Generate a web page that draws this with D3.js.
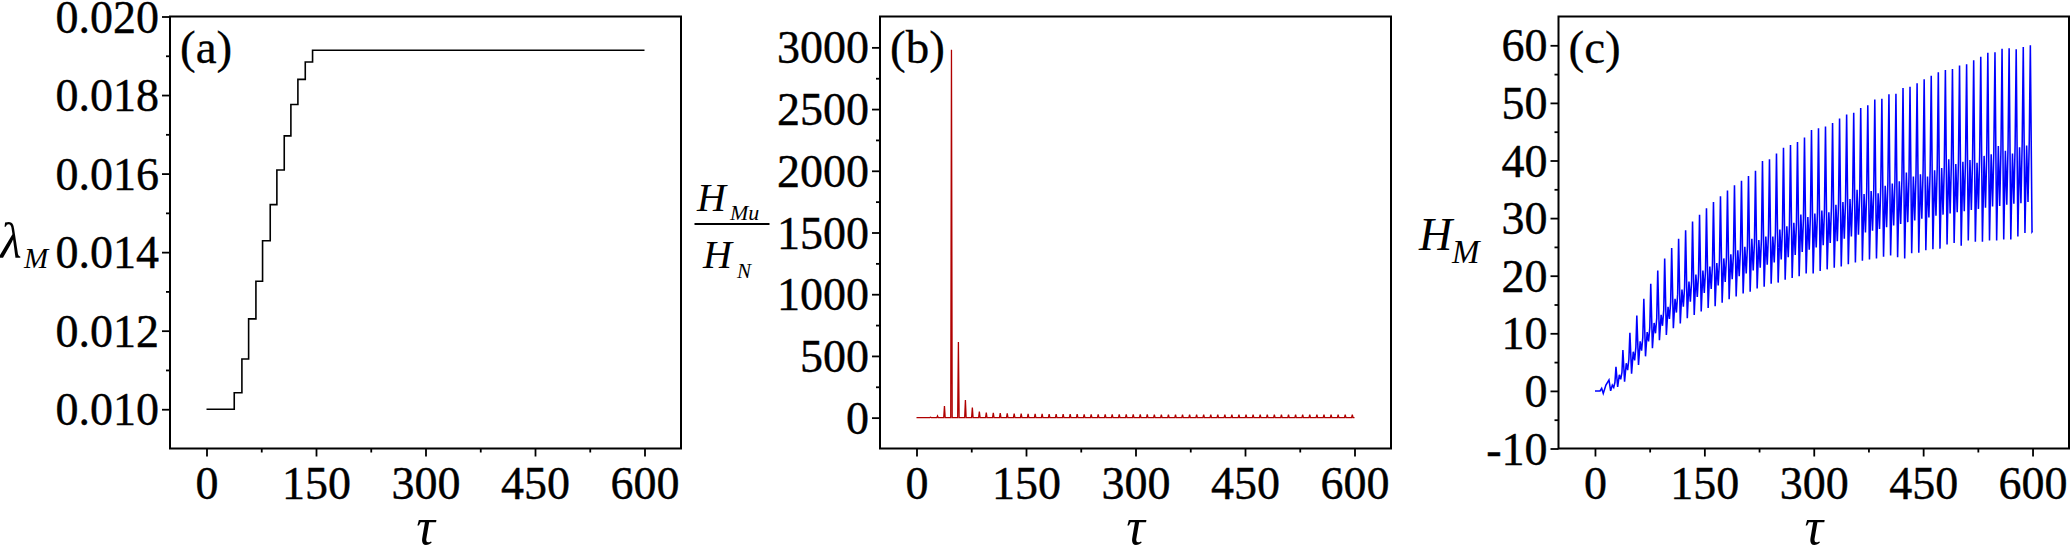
<!DOCTYPE html>
<html><head><meta charset="utf-8">
<script src="https://cdn.jsdelivr.net/npm/d3@7"></script>
<style>html,body{margin:0;padding:0;background:#fff;overflow:hidden}</style>
</head><body>
<svg id="chart" width="2070" height="549" xmlns="http://www.w3.org/2000/svg"></svg>
<script>
// ---------------- DATA ----------------
const xTickValues = [0, 150, 300, 450, 600];
const xMinorValues = [75, 225, 375, 525];

// (a) lambda_M step function
const aYTicks = [0.010, 0.012, 0.014, 0.016, 0.018, 0.020];
const aYMinor = [0.011, 0.013, 0.015, 0.017, 0.019];
const aT = [0, 38, 48.5, 57.7, 67.7, 76.8, 87.3, 96.4, 106.5, 115.6, 125.2, 135.3, 145.3, 600];
const aV = [0.0100, 0.01042, 0.01128, 0.0123, 0.01326, 0.01429, 0.01521, 0.01609, 0.01696, 0.01776, 0.0184, 0.01884, 0.01914, 0.01914];

// cycle times (shared by b and c)
const cycleT = [19.2, 28.8, 38.3, 47.9, 57.4, 67.0, 76.5, 86.1, 95.6, 105.2, 114.7, 124.3, 133.8, 143.4, 152.9, 162.5, 172.1, 181.7, 191.3, 200.9, 210.5, 220.1, 229.7, 239.3, 248.9, 258.5, 268.1, 277.7, 287.3, 296.9, 306.5, 316.1, 325.8, 335.4, 345.1, 354.8, 364.4, 374.1, 383.7, 393.4, 403.1, 412.7, 422.4, 432.0, 441.7, 451.4, 461.1, 470.8, 480.5, 490.2, 499.9, 509.6, 519.3, 529.0, 538.7, 548.5, 558.2, 567.9, 577.6, 587.3, 597.0];

// (b) H_Mu / H_N spikes
const bYTicks = [0, 500, 1000, 1500, 2000, 2500, 3000];
const bYMinor = [250, 750, 1250, 1750, 2250, 2750];
const bPeak = [3, 14, 95, 2980, 613, 143, 81, 49, 41, 38, 36, 34, 33, 32, 31, 30, 30, 29, 29, 28, 28, 28, 27, 27, 27, 27, 26, 26, 26, 26, 26, 26, 25, 25, 25, 25, 25, 25, 25, 25, 25, 25, 25, 25, 25, 25, 25, 25, 25, 25, 25, 25, 25, 25, 25, 25, 25, 25, 25, 25, 25];
const bSpikeHalfWidth = [1.0];

// (c) H_M oscillation
const cYTicks = [-10, 0, 10, 20, 30, 40, 50, 60];
const cYMinor = [-5, 5, 15, 25, 35, 45, 55];
const cPreT = [0, 7, 9.2, 11.4, 15];
const cPreV = [0, 0, 0.45, -0.45, 1.0];
const cPeak = [1.9, 4.2, 7.1, 10.1, 13.1, 16.0, 18.6, 20.9, 23.0, 24.8, 26.4, 27.9, 29.4, 30.6, 31.7, 32.8, 33.8, 34.8, 35.7, 36.5, 37.3, 38.2, 39.9, 40.2, 41.2, 42.2, 42.7, 43.2, 44.0, 45.3, 45.6, 45.9, 46.5, 47.3, 48.0, 48.3, 49.1, 49.6, 50.6, 50.7, 51.5, 51.6, 52.6, 52.8, 53.4, 54.1, 54.7, 55.3, 55.7, 55.9, 56.5, 56.7, 57.4, 58.0, 58.7, 58.8, 59.4, 59.5, 59.3, 59.7, 60.0];
const cTrough = [0.0, 0.7, 1.6, 3.0, 4.5, 6.0, 7.4, 8.8, 9.7, 10.9, 11.7, 12.6, 13.2, 13.8, 14.4, 14.7, 15.3, 15.9, 16.4, 16.9, 17.2, 17.8, 18.1, 18.6, 18.8, 19.3, 19.6, 19.9, 20.4, 20.4, 20.8, 21.1, 21.4, 21.6, 22.0, 22.3, 22.6, 22.8, 23.0, 23.3, 23.5, 23.2, 23.0, 23.9, 24.0, 24.4, 24.6, 24.7, 25.4, 25.7, 25.2, 26.1, 25.9, 25.9, 26.1, 26.1, 26.3, 26.3, 26.8, 27.4, 27.6];
const cMidHi = [1.0, 2.8, 4.8, 6.8, 8.6, 10.2, 11.8, 13.2, 14.6, 16.0, 17.6, 19.0, 20.2, 20.9, 21.6, 22.2, 23.0, 23.7, 24.4, 25.0, 26.4, 26.2, 26.8, 26.8, 28.0, 28.6, 29.2, 30.6, 30.2, 30.8, 31.3, 31.0, 32.3, 32.8, 33.3, 34.9, 34.2, 34.7, 34.3, 35.6, 36.0, 36.4, 37.9, 37.2, 37.6, 37.2, 38.3, 38.7, 40.2, 39.4, 39.8, 40.1, 39.6, 40.8, 41.1, 42.5, 41.7, 41.2, 42.3, 42.6, 42.8];
const cMidLo = [0.6, 2.0, 3.6, 5.3, 7.0, 8.6, 10.0, 11.3, 12.5, 13.6, 14.6, 15.5, 16.3, 17.0, 17.7, 18.3, 18.9, 19.4, 19.9, 20.4, 20.9, 21.4, 21.9, 22.3, 22.8, 23.2, 23.6, 24.1, 24.5, 24.9, 25.3, 25.7, 26.0, 26.4, 26.8, 27.1, 27.5, 27.8, 28.1, 28.4, 28.7, 29.0, 29.3, 29.6, 29.9, 30.1, 30.4, 30.6, 30.8, 31.0, 31.2, 31.4, 31.6, 31.8, 32.0, 32.1, 32.3, 32.5, 32.6, 32.8, 33.0];
const cMidHi2 = [1.5, 3.2, 5.5, 7.6, 9.3, 11.0, 12.6, 14.0, 15.4, 16.8, 18.0, 19.0, 20.2, 21.0, 21.8, 22.6, 23.2, 23.9, 24.6, 25.2, 25.9, 26.4, 27.3, 27.6, 28.3, 28.9, 29.3, 30.0, 30.6, 31.0, 31.5, 32.0, 32.6, 33.1, 33.6, 34.0, 34.6, 35.0, 35.5, 36.0, 36.3, 36.8, 37.2, 37.6, 38.0, 38.3, 38.8, 39.1, 39.5, 39.8, 40.2, 40.5, 40.9, 41.2, 41.6, 41.9, 42.3, 42.6, 43.0, 43.3, 43.5];
const cCycleOffsets = [0, 2.3, 4.6, 6.5, 8.2];
const cEnd = [600, 27.7];

// ---------------- BUILD SERIES ----------------
const aPts = aT.map((t, i) => [t, aV[i]]);

const bPts = [[0, 0]];
cycleT.forEach((t, k) => {
  bPts.push([t - bSpikeHalfWidth[0], 0], [t, bPeak[k]], [t + bSpikeHalfWidth[0], 0]);
});
bPts.push([600, 0]);

const cPts = cPreT.map((t, i) => [t, cPreV[i]]);
cycleT.forEach((t, k) => {
  const vals = [cPeak[k], cTrough[k], cMidHi[k], cMidLo[k], cMidHi2[k]];
  cCycleOffsets.forEach((off, j) => {
    const tt = t + off;
    if (tt < 600) cPts.push([tt, vals[j]]);
  });
});
cPts.push(cEnd);

// ---------------- DRAW ----------------
const svg = d3.select('#chart');
const FONT = '"Liberation Serif", serif';
const TOP = 16.5, BOTTOM = 448.5;

const panels = [
  {left: 170, right: 681, yDomain: [0.009, 0.020], yTicks: aYTicks, yMinor: aYMinor,
   fmt: d3.format('.3f'), pts: aPts, color: '#000', curve: d3.curveStepAfter, width: 1.6, tag: '(a)'},
  {left: 880, right: 1391, yDomain: [-250, 3250], yTicks: bYTicks, yMinor: bYMinor,
   fmt: d => String(d), pts: bPts, color: '#b00000', curve: d3.curveLinear, width: 1.3, tag: '(b)'},
  {left: 1558.5, right: 2069, yDomain: [-10, 65], yTicks: cYTicks, yMinor: cYMinor,
   fmt: d => String(d), pts: cPts, color: '#0000ff', curve: d3.curveLinear, width: 1.55, tag: '(c)'}
];

panels.forEach(p => {
  const x = d3.scaleLinear().domain([-50, 650]).range([p.left, p.right]);
  const y = d3.scaleLinear().domain(p.yDomain).range([BOTTOM, TOP]);
  const g = svg.append('g');

  g.append('path').datum(p.pts)
    .attr('d', d3.line().x(d => x(d[0])).y(d => y(d[1])).curve(p.curve))
    .attr('fill', 'none').attr('stroke', p.color).attr('stroke-width', p.width)
    .attr('stroke-linejoin', 'miter');

  g.append('rect').attr('x', p.left).attr('y', TOP)
    .attr('width', p.right - p.left).attr('height', BOTTOM - TOP)
    .attr('fill', 'none').attr('stroke', '#000').attr('stroke-width', 2);

  const gx = g.append('g').attr('transform', `translate(0,${BOTTOM})`)
    .call(d3.axisBottom(x).tickValues(xTickValues).tickSize(8).tickFormat(d => String(d)));
  const gxm = g.append('g').attr('transform', `translate(0,${BOTTOM})`)
    .call(d3.axisBottom(x).tickValues(xMinorValues).tickSize(4).tickFormat(''));
  const gy = g.append('g').attr('transform', `translate(${p.left},0)`)
    .call(d3.axisLeft(y).tickValues(p.yTicks).tickSize(8).tickFormat(p.fmt));
  const gym = g.append('g').attr('transform', `translate(${p.left},0)`)
    .call(d3.axisLeft(y).tickValues(p.yMinor).tickSize(4).tickFormat(''));

  [gx, gxm, gy, gym].forEach(a => {
    a.attr('font-family', null).attr('font-size', null);
    a.select('.domain').remove();
    a.selectAll('line').attr('stroke', '#000').attr('stroke-width', 1.8);
  });
  gx.selectAll('text').attr('y', 50).attr('dy', null)
    .style('font-family', FONT).style('font-size', '46px').attr('fill', '#000')
    .attr('stroke', '#000').attr('stroke-width', 0.4);
  gy.selectAll('text').attr('x', -11).attr('dy', '0.34em')
    .style('font-family', FONT).style('font-size', '46px').attr('fill', '#000')
    .attr('stroke', '#000').attr('stroke-width', 0.4);

  g.append('text').attr('x', p.left + 10).attr('y', 63).text(p.tag)
    .style('font-family', FONT).style('font-size', '47px')
    .attr('stroke', '#000').attr('stroke-width', 0.3);

  g.append('text').attr('x', (p.left + p.right) / 2).attr('y', 544)
    .attr('text-anchor', 'middle').text('τ')
    .style('font-family', FONT).style('font-size', '52px').style('font-style', 'italic');
});

// y-axis labels
const lab = svg.append('g').style('font-family', FONT).style('font-style', 'italic').attr('fill', '#000');
// (a) lambda_M
lab.append('text').attr('x', 0).attr('y', 258).style('font-size', '50px').text('λ');
lab.append('text').attr('x', 24).attr('y', 268).style('font-size', '29px').text('M');
// (b) H_Mu / H_N
lab.append('text').attr('x', 697).attr('y', 211).style('font-size', '40px').text('H');
lab.append('text').attr('x', 730).attr('y', 220).style('font-size', '22px').text('Mu');
svg.append('line').attr('x1', 694.5).attr('x2', 769.5).attr('y1', 224).attr('y2', 224)
  .attr('stroke', '#000').attr('stroke-width', 2);
lab.append('text').attr('x', 703).attr('y', 268).style('font-size', '40px').text('H');
lab.append('text').attr('x', 737).attr('y', 278).style('font-size', '21px').text('N');
// (c) H_M
lab.append('text').attr('x', 1419).attr('y', 250).style('font-size', '46px').text('H');
lab.append('text').attr('x', 1452).attr('y', 263).style('font-size', '33px').text('M');
</script>
</body></html>
